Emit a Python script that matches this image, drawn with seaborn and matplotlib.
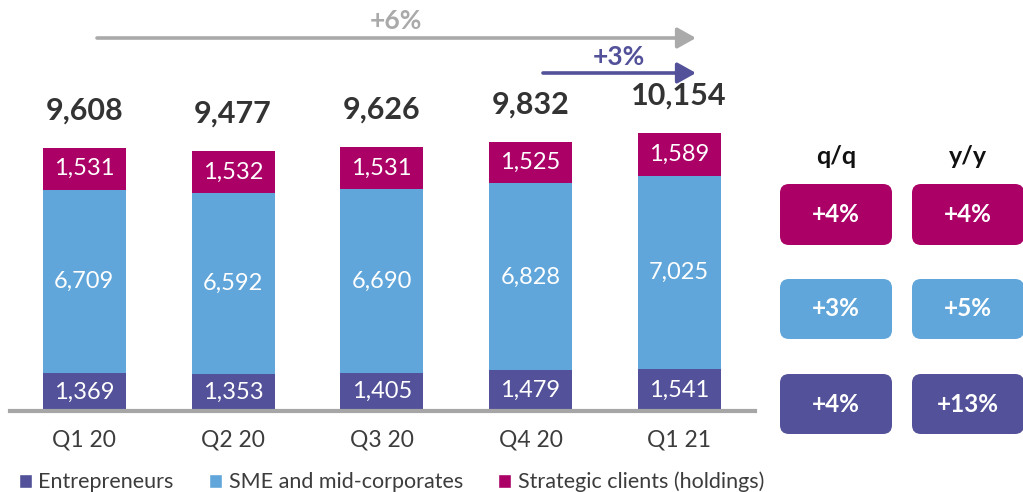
import matplotlib
matplotlib.use("Agg")
import matplotlib.pyplot as plt
from matplotlib.patches import FancyBboxPatch, Patch
import seaborn as sns
import numpy as np

# Lending volumes by segment (EUR m)
quarters = ["Q1 20", "Q2 20", "Q3 20", "Q4 20", "Q1 21"]
entrepreneurs = [1369, 1353, 1405, 1479, 1541]
sme_mid = [6709, 6592, 6690, 6828, 7025]
strategic = [1531, 1532, 1531, 1525, 1589]
totals = [9608, 9477, 9626, 9832, 10154]

segment_names = ["Entrepreneurs", "SME and mid-corporates", "Strategic clients (holdings)"]

# Growth by segment, rows top-to-bottom: strategic, SME, entrepreneurs
growth_qq = ["+4%", "+3%", "+4%"]
growth_yy = ["+4%", "+5%", "+13%"]
growth_header = ["q/q", "y/y"]
total_growth_labels = ["+6%", "+3%"]

C_ENT = "#525199"
C_SME = "#60A6DA"
C_STR = "#AB0066"
C_GREY = "#AAAAAA"
C_TEXT = "#333333"

sns.set_theme(style="white")
plt.rcParams["font.family"] = ["Lato", "DejaVu Sans"]

W, H = 1023, 492
fig = plt.figure(figsize=(W / 100, H / 100), dpi=100)

def fx(px):
    return px / W

def fy(py):
    return 1 - py / H

# Main stacked-bar axes: baseline at y=411 px
base_px = 411
ax = fig.add_axes([fx(10), fy(base_px), fx(755) - fx(10), 1 - fy(base_px)])

ent = np.array(entrepreneurs)
sme = np.array(sme_mid)
stg = np.array(strategic)
tot = np.array(totals)

bw = 0.558
sns.barplot(x=quarters, y=tot, color=C_STR, saturation=1, width=bw, ax=ax,
            linewidth=0, edgecolor="none")
sns.barplot(x=quarters, y=ent + sme, color=C_SME, saturation=1, width=bw, ax=ax,
            linewidth=0, edgecolor="none")
sns.barplot(x=quarters, y=ent, color=C_ENT, saturation=1, width=bw, ax=ax,
            linewidth=0, edgecolor="none")

ax.set_xlim(-0.5, 4.51)
ax.set_ylim(0, 15000)
ax.set_ylabel("")
ax.set_yticks([])
for s in ["left", "right", "top"]:
    ax.spines[s].set_visible(False)
ax.spines["bottom"].set_color("#A6A6A6")
ax.spines["bottom"].set_linewidth(3.0)
ax.spines["bottom"].set_zorder(5)
ax.set_xticks(range(len(quarters)))
ax.set_xticklabels(quarters, fontsize=16.5, color="#3C3C3C")
ax.tick_params(axis="x", length=0, pad=13)

# Segment value labels
seg_fs = 17
for i in range(len(quarters)):
    ax.text(i, ent[i] / 2, f"{ent[i]:,}", ha="center", va="center",
            color="white", fontsize=seg_fs)
    ax.text(i, ent[i] + sme[i] / 2, f"{sme[i]:,}", ha="center", va="center",
            color="white", fontsize=seg_fs)
    ax.text(i, ent[i] + sme[i] + (tot[i] - ent[i] - sme[i]) / 2, f"{stg[i]:,}",
            ha="center", va="center", color="white", fontsize=seg_fs)
    ax.annotate(f"{tot[i]:,}", xy=(i, tot[i]), xytext=(0, 27),
                textcoords="offset points", ha="center", va="center",
                fontsize=22, fontweight="bold", color=C_TEXT)

# Overlay in pixel coordinates for arrows and growth boxes
ov = fig.add_axes([0, 0, 1, 1])
ov.set_xlim(0, W)
ov.set_ylim(H, 0)
ov.axis("off")
ov.patch.set_alpha(0)

def arrow(x0, x1, y, color):
    ov.annotate("", xy=(x1, y), xytext=(x0, y),
                arrowprops=dict(arrowstyle="-|>,head_length=0.75,head_width=0.42",
                                color=color, lw=2.6, mutation_scale=15,
                                shrinkA=0, shrinkB=0))

arrow(97, 696, 38, C_GREY)
ov.text(396, 21, total_growth_labels[0], ha="center", va="center",
        fontsize=19, fontweight="bold", color=C_GREY)
arrow(543, 696, 73, C_ENT)
ov.text(619, 57, total_growth_labels[1], ha="center", va="center",
        fontsize=19, fontweight="bold", color=C_ENT)

# Growth boxes
col_x = [(780, 892), (912, 1024)]
row_y = [(184, 245), (279, 339), (374, 434)]
row_colors = [C_STR, C_SME, C_ENT]
for c, (x0, x1) in enumerate(col_x):
    ov.text((x0 + x1) / 2, 156, growth_header[c], ha="center", va="center",
            fontsize=18, fontweight="bold", color="#111111")
    vals = growth_qq if c == 0 else growth_yy
    for r, (y0, y1) in enumerate(row_y):
        ov.add_patch(FancyBboxPatch((x0, y0), x1 - x0, y1 - y0,
                                    boxstyle="round,pad=0,rounding_size=9",
                                    facecolor=row_colors[r], edgecolor="none"))
        ov.text((x0 + x1) / 2, (y0 + y1) / 2, vals[r], ha="center", va="center",
                fontsize=17.5, fontweight="bold", color="white")

# Legend
handles = [Patch(facecolor=C_ENT), Patch(facecolor=C_SME), Patch(facecolor=C_STR)]
fig.legend(handles, segment_names, loc="center left",
           bbox_to_anchor=(fx(19), fy(482)), ncol=3, frameon=False,
           fontsize=15.5, handlelength=0.6, handleheight=0.6,
           handletextpad=0.3, columnspacing=1.65, borderaxespad=0, borderpad=0,
           labelcolor="#3C3C3C")

fig.savefig("out.png", dpi=100)
